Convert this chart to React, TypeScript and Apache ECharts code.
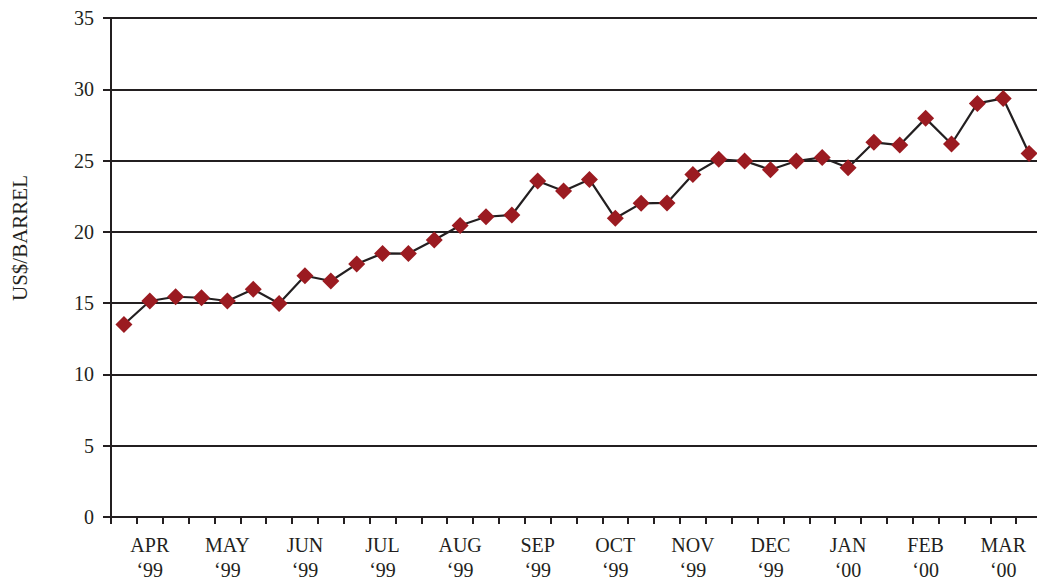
import React, { useEffect, useRef } from "react";
import * as echarts from "echarts";

const MONTHS = ["APR", "MAY", "JUN", "JUL", "AUG", "SEP", "OCT", "NOV", "DEC", "JAN", "FEB", "MAR"];
const YEARS = ["‘99", "‘99", "‘99", "‘99", "‘99", "‘99", "‘99", "‘99", "‘99", "‘00", "‘00", "‘00"];
const WEEKS_PER_MONTH = 3;

const PRICES = [
  13.5, 15.15, 15.45,
  15.38, 15.15, 15.97,
  14.98, 16.92, 16.55,
  17.74, 18.49, 18.48,
  19.43, 20.45, 21.06,
  21.18, 23.57, 22.87,
  23.68, 20.95, 22.0,
  22.03, 24.03, 25.09,
  24.97, 24.36, 24.97,
  25.22, 24.5, 26.28,
  26.09, 27.96, 26.16,
  29.01, 29.36, 25.5,
];

const Y_TICKS = [0, 5, 10, 15, 20, 25, 30, 35];
const Y_NAME = "US$/BARREL";

const CATEGORIES = MONTHS.flatMap((m, i) =>
  Array.from({ length: WEEKS_PER_MONTH }, (_, w) => `${m} ${YEARS[i]} w${w + 1}`)
);

const FONT = "'Liberation Serif', 'DejaVu Serif', serif";
const DARK = "#231f20";
const RED = "#9b1b21";

export default function App() {
  const ref = useRef<HTMLDivElement>(null);

  useEffect(() => {
    if (!ref.current) return;
    const chart = echarts.init(ref.current, null, { renderer: "svg" });
    chart.setOption({
      animation: false,
      backgroundColor: "#ffffff",
      grid: {
        left: 111,
        width: 931,
        top: 18,
        bottom: 65,
        containLabel: false,
        outerBoundsMode: "none",
      },
      xAxis: {
        type: "category",
        data: CATEGORIES,
        boundaryGap: true,
        axisLine: { show: true, onZero: false, lineStyle: { color: DARK, width: 2 } },
        axisTick: { show: true, interval: 0, length: 7, alignWithLabel: false, lineStyle: { color: DARK, width: 2 } },
        axisLabel: {
          interval: 0,
          margin: 15,
          color: DARK,
          fontFamily: FONT,
          fontSize: 20,
          lineHeight: 25,
          formatter: (_v: string, idx: number) => {
            if (idx % WEEKS_PER_MONTH !== 1) return "";
            const m = Math.floor(idx / WEEKS_PER_MONTH);
            return `${MONTHS[m]}\n${YEARS[m]}`;
          },
        },
        splitLine: { show: false },
      },
      yAxis: {
        type: "value",
        min: Y_TICKS[0],
        max: Y_TICKS[Y_TICKS.length - 1],
        interval: 5,
        axisLine: { show: true, lineStyle: { color: DARK, width: 2 } },
        axisTick: { show: true, length: 8, lineStyle: { color: DARK, width: 2 } },
        axisLabel: {
          margin: 17,
          color: DARK,
          fontFamily: FONT,
          fontSize: 20,
        },
        splitLine: { show: true, lineStyle: { color: DARK, width: 2 } },
      },
      graphic: [
        {
          type: "text",
          x: 20,
          y: 238,
          rotation: Math.PI / 2,
          style: {
            text: Y_NAME,
            fill: DARK,
            font: `21px ${FONT}`,
            textAlign: "center",
            textVerticalAlign: "middle",
            align: "center",
            verticalAlign: "middle",
          },
        },
      ],
      series: [
        {
          type: "line",
          data: PRICES,
          symbol: "diamond",
          symbolSize: 17,
          showAllSymbol: true,
          lineStyle: { color: DARK, width: 2.2 },
          itemStyle: { color: RED },
          z: 5,
        },
      ],
    });
    return () => chart.dispose();
  }, []);

  return (
    <div
      ref={ref}
      style={{ position: "absolute", left: 0, top: 0, width: 1037, height: 582, background: "#fff" }}
    />
  );
}
